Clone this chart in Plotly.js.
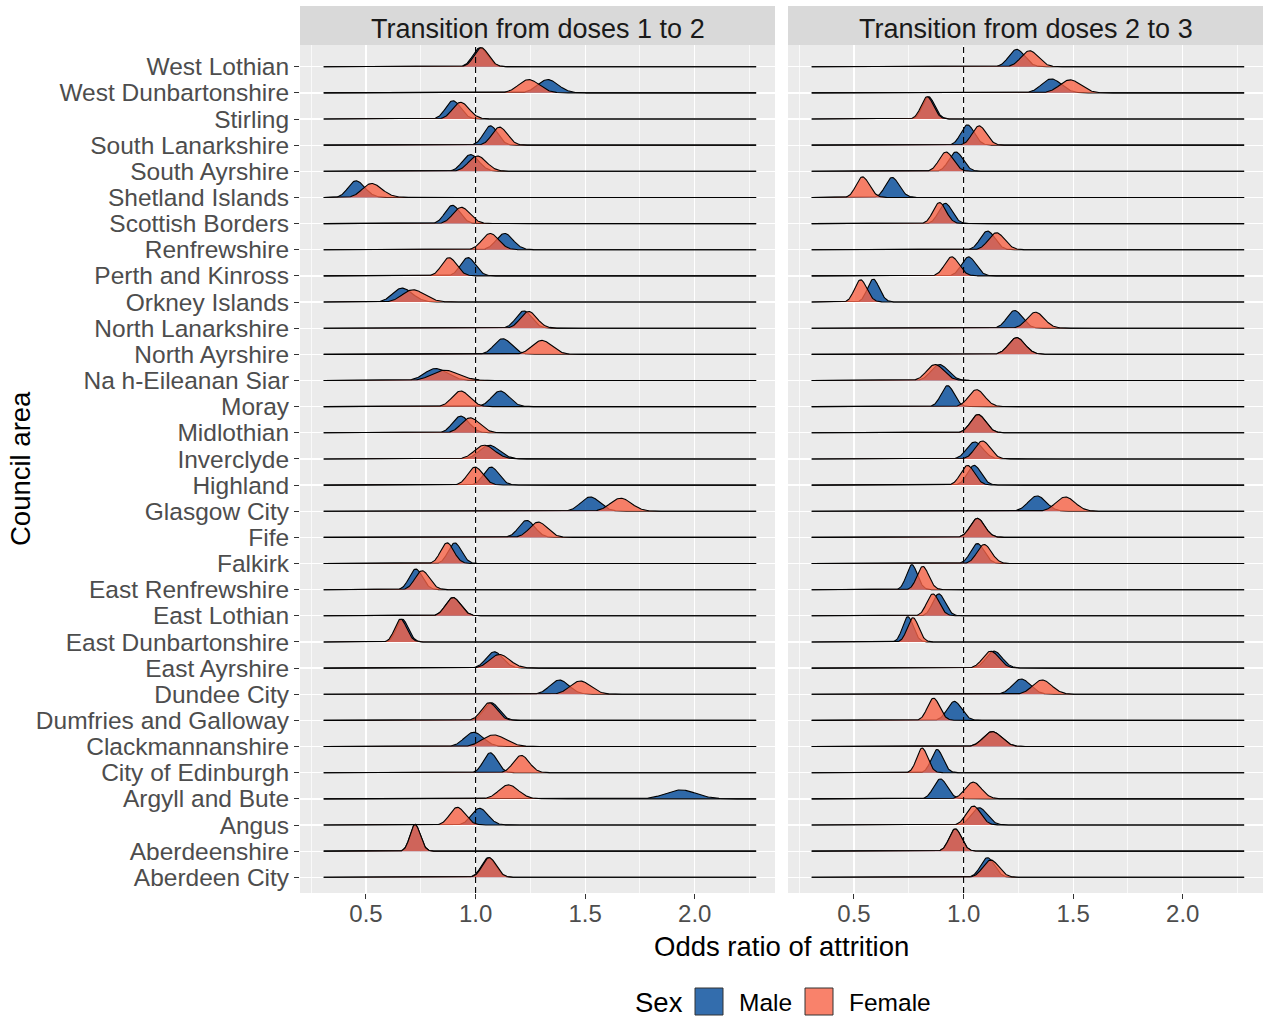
<!DOCTYPE html>
<html>
<head>
<meta charset="utf-8">
<script src="https://cdn.plot.ly/plotly-3.0.1.min.js"></script>
<style>
  html, body { margin: 0; padding: 0; background: #ffffff; }
  #chart { width: 1270px; height: 1019px; }
</style>
</head>
<body>
<div id="chart"></div>
<script>
// Council areas, bottom (y = 1) to top (y = 32)
const councils = ['Aberdeen City', 'Aberdeenshire', 'Angus', 'Argyll and Bute', 'City of Edinburgh',
  'Clackmannanshire', 'Dumfries and Galloway', 'Dundee City', 'East Ayrshire', 'East Dunbartonshire',
  'East Lothian', 'East Renfrewshire', 'Falkirk', 'Fife', 'Glasgow City', 'Highland', 'Inverclyde',
  'Midlothian', 'Moray', 'Na h-Eileanan Siar', 'North Ayrshire', 'North Lanarkshire', 'Orkney Islands',
  'Perth and Kinross', 'Renfrewshire', 'Scottish Borders', 'Shetland Islands', 'South Ayrshire',
  'South Lanarkshire', 'Stirling', 'West Dunbartonshire', 'West Lothian'];

// Posterior odds ratio of attrition: most likely value (mode) and spread, doses 1 -> 2
const dose12MaleMode = [1.058, 0.724, 1.018, 1.935, 1.067, 0.991, 1.072, 1.382, 1.086, 0.665, 0.897, 0.727,
  0.905, 1.233, 1.523, 1.071, 1.062, 0.932, 1.112, 0.818, 1.124, 1.220, 0.665, 0.965, 1.132, 0.894, 0.455,
  0.977, 1.068, 0.897, 1.329, 1.020];
const dose12MaleSd = [0.0315, 0.0232, 0.0371, 0.069, 0.031, 0.0434, 0.035, 0.0434, 0.038, 0.027, 0.0339, 0.030,
  0.030, 0.0365, 0.0434, 0.0344, 0.045, 0.0371, 0.0395, 0.0517, 0.0395, 0.0358, 0.0443, 0.0339, 0.038, 0.0339,
  0.0371, 0.0371, 0.0321, 0.0339, 0.0466, 0.0326];
const dose12FemaleMode = [1.062, 0.724, 0.917, 1.150, 1.208, 1.083, 1.062, 1.477, 1.109, 0.658, 0.897, 0.756,
  0.870, 1.286, 1.662, 0.998, 1.040, 0.976, 0.932, 0.859, 1.302, 1.242, 0.715, 0.879, 1.067, 0.935, 0.526,
  1.008, 1.109, 0.932, 1.242, 1.026];
const dose12FemaleSd = [0.0315, 0.0232, 0.035, 0.0443, 0.0358, 0.053, 0.035, 0.0466, 0.0453, 0.027, 0.0339, 0.0326,
  0.030, 0.0405, 0.0477, 0.0344, 0.045, 0.0413, 0.0395, 0.0602, 0.0443, 0.0371, 0.0504, 0.0339, 0.038, 0.038,
  0.0443, 0.0405, 0.0344, 0.0371, 0.0466, 0.0326];

// Doses 2 -> 3
const dose23MaleMode = [1.109, 0.962, 1.071, 0.894, 0.879, 1.131, 0.958, 1.263, 1.139, 0.746, 0.887, 0.764,
  1.063, 1.063, 1.335, 1.048, 1.051, 1.066, 0.927, 0.890, 1.242, 1.233, 0.588, 1.023, 1.109, 0.917, 0.674,
  0.965, 1.018, 0.840, 1.400, 1.242];
const dose23MaleSd = [0.0315, 0.0278, 0.0358, 0.031, 0.0266, 0.0413, 0.0326, 0.0405, 0.0365, 0.0245, 0.0282, 0.0248,
  0.031, 0.0326, 0.0405, 0.0315, 0.0365, 0.0339, 0.0295, 0.0388, 0.0371, 0.035, 0.027, 0.0326, 0.0332, 0.0305,
  0.031, 0.0321, 0.0305, 0.0278, 0.0443, 0.0358];
const dose23FemaleMode = [1.124, 0.962, 1.045, 1.044, 0.811, 1.131, 0.863, 1.358, 1.124, 0.769, 0.860, 0.814,
  1.094, 1.063, 1.464, 1.018, 1.086, 1.066, 1.059, 0.870, 1.242, 1.328, 0.530, 0.946, 1.150, 0.890, 0.539,
  0.920, 1.071, 0.834, 1.486, 1.301];
const dose23FemaleSd = [0.0358, 0.0278, 0.0326, 0.0371, 0.0251, 0.0413, 0.0278, 0.0434, 0.0365, 0.0255, 0.0282, 0.0266,
  0.0326, 0.0326, 0.0434, 0.0315, 0.0344, 0.0339, 0.0365, 0.0388, 0.0371, 0.0388, 0.0278, 0.0326, 0.0365, 0.0295,
  0.030, 0.0321, 0.0321, 0.0278, 0.0477, 0.0388];

const panelTitles = ['Transition from doses 1 to 2', 'Transition from doses 2 to 3'];
const sexLabels = ['Male', 'Female'];
const xTickVals = [0.5, 1.0, 1.5, 2.0];
const xTickText = ['0.5', '1.0', '1.5', '2.0'];
const xMinorVals = [0.25, 0.75, 1.25, 1.75, 2.25];
const referenceOR = 1.0;
const densityRange = [0.307, 2.28];   // span over which each density is evaluated

// ---- styling ----
const FONT = 'Liberation Sans, Arial, sans-serif';
const sexFill = { Male: 'rgba(0,72,153,0.8)', Female: 'rgba(248,99,70,0.8)' };
const RIDGE_SCALE = 0.0594;            // density -> row height units
const W = 1270, H = 1019, L = 300, R = 7, T = 45, B = 126;
const plotW = W - L - R, plotH = H - T - B;
const px2x = px => (px - L) / plotW;
const py2y = py => (H - B - py) / plotH;
const panelDomains = [[0, px2x(775)], [px2x(788), 1]];
const xRange = [0.199, 2.366];

// log-normal density with the given mode and spread
function ridgeDensity(mode, sd, n) {
  const s = sd / mode;
  const mu = Math.log(mode) + s * s;
  const xs = [], ys = [];
  for (let k = 0; k < n; k++) {
    const x = densityRange[0] + (densityRange[1] - densityRange[0]) * k / (n - 1);
    const z = (Math.log(x) - mu) / s;
    xs.push(x);
    ys.push(Math.exp(-0.5 * z * z) / (x * s * Math.sqrt(2 * Math.PI)));
  }
  return { xs, ys };
}

const panels = [
  { axis: 'x',  Male: [dose12MaleMode, dose12MaleSd], Female: [dose12FemaleMode, dose12FemaleSd] },
  { axis: 'x2', Male: [dose23MaleMode, dose23MaleSd], Female: [dose23FemaleMode, dose23FemaleSd] }
];

const traces = [];
panels.forEach(p => {
  councils.forEach((name, i) => {
    const row = i + 1;
    sexLabels.forEach(sex => {
      const d = ridgeDensity(p[sex][0][i], p[sex][1][i], 700);
      traces.push({
        type: 'scatter', mode: 'lines',
        x: d.xs,
        y: d.ys.map(v => row + RIDGE_SCALE * v),
        xaxis: p.axis, yaxis: 'y',
        fill: 'toself', fillcolor: sexFill[sex],
        line: { color: '#000000', width: 1.1 },
        name: sex, showlegend: false, hoverinfo: 'skip'
      });
    });
  });
});

const axisCommon = {
  range: xRange, tickmode: 'array', tickvals: xTickVals, ticktext: xTickText,
  ticks: 'outside', ticklen: 5, tickwidth: 1, tickcolor: '#333333',
  tickfont: { family: FONT, size: 24, color: '#4D4D4D' }, ticklabelstandoff: -6,
  showgrid: true, gridcolor: '#FFFFFF', gridwidth: 1.3,
  minor: { tickmode: 'array', tickvals: xMinorVals, showgrid: true, gridcolor: '#FFFFFF', gridwidth: 0.7, ticks: '' },
  zeroline: false, showline: false, anchor: 'y', fixedrange: true
};

const shapes = [];
const annotations = [];
panelDomains.forEach((dom, j) => {
  // facet strip
  shapes.push({ type: 'rect', xref: 'paper', yref: 'paper', x0: dom[0], x1: dom[1],
    y0: 1, y1: py2y(6), fillcolor: '#D9D9D9', line: { width: 0 }, layer: 'below' });
  annotations.push({ xref: 'paper', yref: 'paper', x: (dom[0] + dom[1]) / 2, y: py2y(29),
    xanchor: 'center', yanchor: 'middle', showarrow: false, text: panelTitles[j],
    font: { family: FONT, size: 27, color: '#1A1A1A' } });
  // reference line at OR = 1
  shapes.push({ type: 'line', xref: j === 0 ? 'x' : 'x2', yref: 'paper',
    x0: referenceOR, x1: referenceOR, y0: 0, y1: 1,
    line: { color: '#000000', width: 1.1, dash: '6px,4px' }, layer: 'above' });
});

// axis titles
annotations.push({ xref: 'paper', yref: 'paper', x: 0.5, y: py2y(946), xanchor: 'center', yanchor: 'middle',
  showarrow: false, text: 'Odds ratio of attrition', font: { family: FONT, size: 27.5, color: '#000000' } });
annotations.push({ xref: 'paper', yref: 'paper', x: px2x(20), y: 0.5, xanchor: 'center', yanchor: 'middle',
  showarrow: false, textangle: -90, text: 'Council area', font: { family: FONT, size: 27.5, color: '#000000' } });

// legend
annotations.push({ xref: 'paper', yref: 'paper', x: px2x(633), y: py2y(1002), xanchor: 'left', yanchor: 'middle',
  showarrow: false, text: 'Sex', font: { family: FONT, size: 27.5, color: '#000000' } });
const legendBoxes = [[695, 737], [805, 847]];
sexLabels.forEach((sex, k) => {
  const [bx, tx] = legendBoxes[k];
  shapes.push({ type: 'rect', xref: 'paper', yref: 'paper', x0: px2x(bx), x1: px2x(bx + 28),
    y0: py2y(1015), y1: py2y(988), fillcolor: sexFill[sex], line: { color: '#333333', width: 1 } });
  annotations.push({ xref: 'paper', yref: 'paper', x: px2x(tx), y: py2y(1002), xanchor: 'left', yanchor: 'middle',
    showarrow: false, text: sex, font: { family: FONT, size: 24.5, color: '#000000' } });
});

const layout = {
  width: W, height: H,
  margin: { l: L, r: R, t: T, b: B, pad: 0 },
  paper_bgcolor: '#FFFFFF', plot_bgcolor: '#EBEBEB',
  font: { family: FONT },
  showlegend: false,
  xaxis: Object.assign({}, axisCommon, { domain: panelDomains[0] }),
  xaxis2: Object.assign({}, axisCommon, { domain: panelDomains[1] }),
  yaxis: {
    range: [0.4, 32.83], tickmode: 'array',
    tickvals: councils.map((_, i) => i + 1), ticktext: councils,
    ticks: 'outside', ticklen: 5, tickwidth: 1, tickcolor: '#333333',
    tickfont: { family: FONT, size: 24.5, color: '#4D4D4D' },
    showgrid: true, gridcolor: '#FFFFFF', gridwidth: 1.3,
    zeroline: false, showline: false, anchor: 'x', fixedrange: true
  },
  shapes, annotations
};

Plotly.newPlot('chart', traces, layout, { staticPlot: true, displayModeBar: false });
</script>
</body>
</html>
